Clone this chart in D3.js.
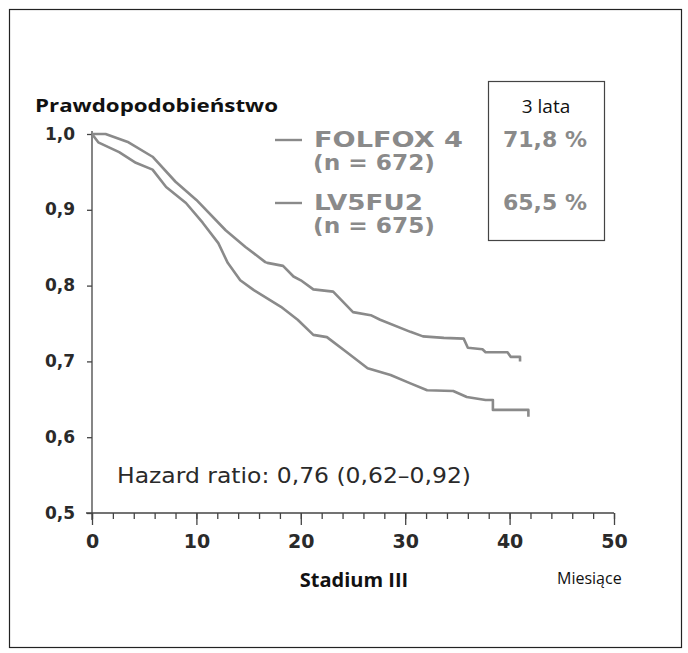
<!DOCTYPE html>
<html>
<head>
<meta charset="utf-8">
<script src="https://cdn.jsdelivr.net/npm/d3@7"></script>
<style>
  body { margin: 0; background: #fff; }
  svg text { font-family: "Open Sans", sans-serif; }
</style>
</head>
<body>
<div id="chart"></div>
<script>
// months / survival probability
var folfoxT = [0, 1.3, 3.5, 5.8, 8.0, 10.0, 12.8, 14.7, 16.6, 16.8, 18.3, 19.3, 20.0, 21.2, 23.1, 25.0, 26.7, 27.6, 30.5, 31.7, 33.7, 35.6, 36.0, 37.4, 37.7, 39.8, 40.1, 41.0, 41.0];
var folfoxS = [1.0, 1.0, 0.989, 0.970, 0.937, 0.913, 0.873, 0.851, 0.831, 0.830, 0.826, 0.812, 0.807, 0.795, 0.792, 0.765, 0.761, 0.755, 0.739, 0.733, 0.731, 0.730, 0.718, 0.716, 0.712, 0.712, 0.706, 0.706, 0.700];

var lv5fu2T = [0, 0.6, 2.6, 4.2, 5.8, 7.1, 9.0, 10.6, 12.1, 13.0, 14.2, 15.5, 18.1, 19.7, 21.2, 22.5, 24.5, 26.4, 28.6, 30.5, 32.1, 34.6, 35.9, 37.7, 38.4, 38.4, 41.8, 41.8];
var lv5fu2S = [1.0, 0.989, 0.976, 0.962, 0.953, 0.930, 0.909, 0.883, 0.856, 0.830, 0.807, 0.794, 0.772, 0.755, 0.735, 0.732, 0.711, 0.691, 0.682, 0.671, 0.662, 0.661, 0.653, 0.649, 0.649, 0.636, 0.636, 0.627];

var seriesNames = ["FOLFOX 4", "LV5FU2"];
var seriesN = ["(n = 672)", "(n = 675)"];
var threeYear = ["71,8 %", "65,5 %"];

var xMajor = [0, 10, 20, 30, 40, 50];
var xMinor = d3.range(0, 51, 2);
var yTicks = [0.5, 0.6, 0.7, 0.8, 0.9, 1.0];

var width = 688, height = 653;
var gray = "#8a8a8a", ink = "#2a2a2a";
var gillish = "'DejaVu Sans', sans-serif";

var svg = d3.select("#chart").append("svg")
  .attr("width", width)
  .attr("height", height);

// outer frame
svg.append("rect")
  .attr("x", 9.5).attr("y", 9.5)
  .attr("width", 672).attr("height", 638)
  .attr("fill", "none").attr("stroke", "#222").attr("stroke-width", 1.2);

var x = d3.scaleLinear().domain([0, 50]).range([92, 614]);
var y = d3.scaleLinear().domain([0.5, 1.0]).range([513, 134]);

var comma = function(d) { return d3.format(".1f")(d).replace(".", ","); };

// x axis: minor then major ticks
var gxMinor = svg.append("g")
  .attr("transform", "translate(0," + y(0.5) + ")")
  .call(d3.axisBottom(x).tickValues(xMinor).tickSize(6).tickSizeOuter(0).tickFormat(""));
gxMinor.select(".domain").attr("d", "M86,0H" + x(50));

var gxMajor = svg.append("g")
  .attr("transform", "translate(0," + y(0.5) + ")")
  .call(d3.axisBottom(x).tickValues(xMajor).tickSize(12).tickSizeOuter(0).tickPadding(10));
gxMajor.select(".domain").remove();
gxMajor.selectAll("text")
  .attr("font-size", 19).attr("font-weight", 600).attr("fill", ink)
  .style("font-family", gillish);

// y axis
var gy = svg.append("g")
  .attr("transform", "translate(" + x(0) + ",0)")
  .call(d3.axisLeft(y).tickValues(yTicks).tickSize(5).tickSizeOuter(0).tickPadding(12).tickFormat(comma));
gy.select(".domain").attr("d", "M0," + (y(1.0) - 3) + "V" + (y(0.5) + 7));
gy.selectAll("text")
  .attr("font-size", 17).attr("font-weight", 700).attr("fill", ink)
  .attr("dy", "0.3em")
  .style("font-family", gillish);

svg.selectAll(".domain, .tick line").attr("stroke", "#444").attr("stroke-width", 1.3);

// survival curves
var line = d3.line()
  .x(function(d) { return x(d[0]); })
  .y(function(d) { return y(d[1]); });

[d3.zip(folfoxT, folfoxS), d3.zip(lv5fu2T, lv5fu2S)].forEach(function(pts) {
  svg.append("path")
    .datum(pts)
    .attr("d", line)
    .attr("fill", "none")
    .attr("stroke", gray)
    .attr("stroke-width", 2.6)
    .attr("stroke-linejoin", "round");
});

// y title
svg.append("text")
  .attr("x", 35).attr("y", 112)
  .attr("font-size", 18).attr("font-weight", 700).attr("fill", "#111")
  .attr("textLength", 243).attr("lengthAdjust", "spacingAndGlyphs")
  .text("Prawdopodobieństwo");

// legend
var legY = [147, 210];
seriesNames.forEach(function(name, i) {
  svg.append("line")
    .attr("x1", 275).attr("x2", 302)
    .attr("y1", legY[i] - 7).attr("y2", legY[i] - 7)
    .attr("stroke", gray).attr("stroke-width", 2.4);
  svg.append("text")
    .attr("x", 314).attr("y", legY[i])
    .attr("font-size", 21).attr("font-weight", 700).attr("fill", gray)
    .style("font-family", gillish)
    .attr("textLength", i === 0 ? 149 : 109).attr("lengthAdjust", "spacingAndGlyphs")
    .text(name);
  svg.append("text")
    .attr("x", 313).attr("y", legY[i] + 23)
    .attr("font-size", 21).attr("font-weight", 700).attr("fill", gray)
    .style("font-family", gillish)
    .attr("textLength", 122).attr("lengthAdjust", "spacingAndGlyphs")
    .text(seriesN[i]);
});

// 3-year box
svg.append("rect")
  .attr("x", 488.5).attr("y", 81.5)
  .attr("width", 116).attr("height", 159)
  .attr("fill", "none").attr("stroke", "#444").attr("stroke-width", 1.2);
svg.append("text")
  .attr("x", 546).attr("y", 113)
  .attr("text-anchor", "middle")
  .attr("font-size", 19).attr("fill", "#111")
  .text("3 lata");
threeYear.forEach(function(v, i) {
  svg.append("text")
    .attr("x", 503).attr("y", legY[i])
    .attr("font-size", 21).attr("font-weight", 700).attr("fill", gray)
    .style("font-family", gillish)
    .attr("textLength", 84).attr("lengthAdjust", "spacingAndGlyphs")
    .text(v);
});

// hazard ratio
svg.append("text")
  .attr("x", 117).attr("y", 483)
  .attr("font-size", 21).attr("fill", ink)
  .style("font-family", gillish)
  .attr("textLength", 354).attr("lengthAdjust", "spacingAndGlyphs")
  .text("Hazard ratio: 0,76 (0,62–0,92)");

// x titles
svg.append("text")
  .attr("x", 354).attr("y", 587)
  .attr("text-anchor", "middle")
  .attr("font-size", 20).attr("font-weight", 700).attr("fill", "#111")
  .text("Stadium III");
svg.append("text")
  .attr("x", 557).attr("y", 584)
  .attr("font-size", 16).attr("fill", "#111")
  .text("Miesiące");
</script>
</body>
</html>
